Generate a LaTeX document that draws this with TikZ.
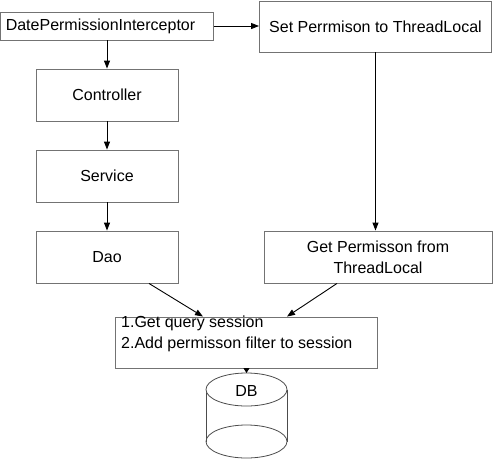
\documentclass[tikz,border=0pt]{standalone}
\usepackage{fontspec}
\setmainfont{Liberation Sans}
\usetikzlibrary{arrows.meta}
\begin{document}
\begin{tikzpicture}[x=1pt,y=-1pt,
  box/.style={draw=black!55, line width=0.9pt, inner sep=0pt, font=\fontsize{16}{21}\selectfont, align=center},
  arr/.style={draw=black, line width=0.9pt, -{Triangle[length=8pt,width=6pt]}},
  lbl/.style={font=\fontsize{16}{21}\selectfont}]
\useasboundingbox (0,0) rectangle (493,459);
\node[box, minimum width=213pt, minimum height=28pt] (inter) at (107,26) {};
\node[lbl, inner sep=0pt] (intert) at (100.5,26) {DatePermissionInterceptor};
\node[box, minimum width=232pt, minimum height=51pt] (set) at (375.5,26.5) {Set Perrmison to ThreadLocal};
\node[box, minimum width=142pt, minimum height=52pt] (ctrl) at (107,95) {Controller};
\node[box, minimum width=142pt, minimum height=52pt] (svc) at (107,176) {Service};
\node[box, minimum width=142pt, minimum height=52pt] (dao) at (107,257) {Dao};
\node[box, minimum width=228pt, minimum height=52pt] (get) at (378,257) {Get Permisson from\\ThreadLocal};
\node[box, minimum width=262pt, minimum height=51pt] (sess) at (246,342.5) {};
\node[lbl, anchor=west, inner sep=0pt] (s1) at (121,323) {1.Get query session};
\node[lbl, anchor=west, inner sep=0pt] (s2) at (121,344) {2.Add permisson filter to session};
% cylinder
\coordinate (dbtop) at (246.5,373);
\draw[draw=black!70, line width=0.8pt] (206,389.5) -- (206,441.5) (287,389.5) -- (287,441.5);
\draw[draw=black!70, line width=0.8pt, fill=white] (246.5,389.5) ellipse [x radius=40.5pt, y radius=16.5pt];
\draw[draw=black!70, line width=0.8pt] (246.5,441.5) ellipse [x radius=40.5pt, y radius=16.5pt];
\node[lbl] (db) at (246.5,391) {DB};
% connectors
\draw[arr] (inter.east) -- (set.west |- inter.east);
\draw[arr] (inter.south) -- (ctrl.north);
\draw[arr] (ctrl.south) -- (svc.north);
\draw[arr] (svc.south) -- (dao.north);
\draw[arr] (set.south -| 375.5,0) -- (get.north -| 375.5,0);
\draw[arr] ([xshift=42pt]dao.south) -- ([xshift=-43pt]sess.north);
\draw[arr] ([xshift=-41pt]get.south) -- ([xshift=41pt]sess.north);
\draw[arr, -{Triangle[length=5pt,width=6pt]}] (sess.south -| dbtop) -- (dbtop);
\end{tikzpicture}
\end{document}
